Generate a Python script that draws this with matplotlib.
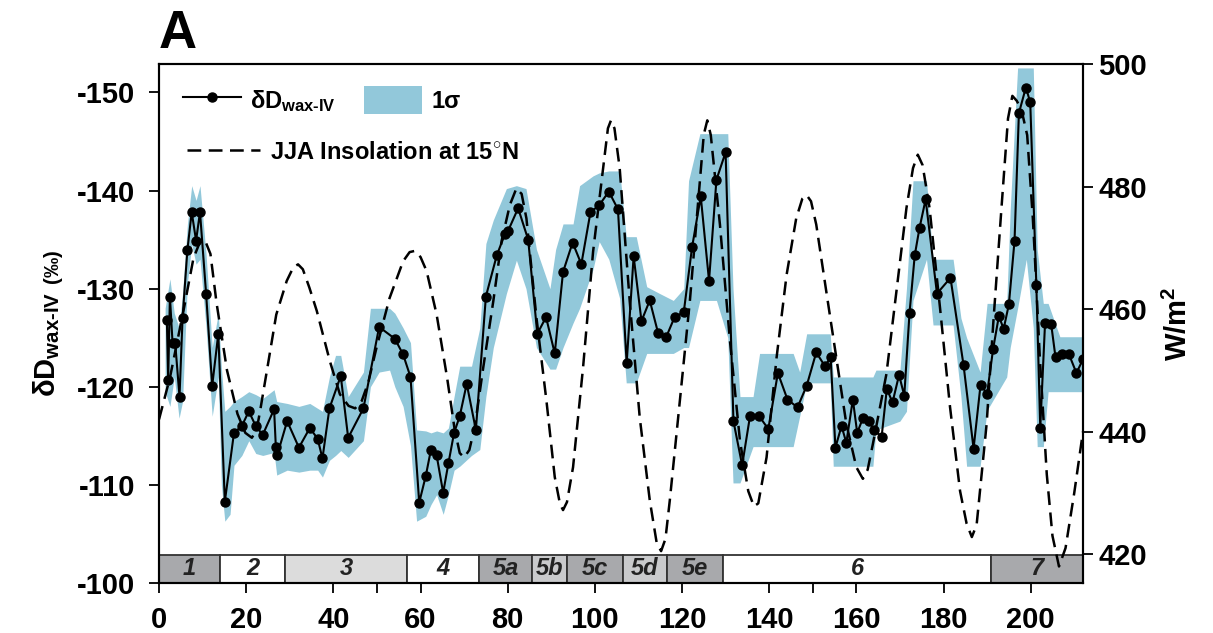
import matplotlib
matplotlib.use('Agg')
import matplotlib.pyplot as plt
import matplotlib.transforms as mtransforms
from matplotlib.patches import Rectangle, Patch
from matplotlib.lines import Line2D

# Styles:
bandColour = '#92c8da'
darkGrey = '#a8a9ac'
midGrey = '#c9cacc'
lightGrey = '#dcdcdc'
font_tick = 21
font_label = 21
font_legend = 17

plt.rcParams['font.family'] = ['Liberation Sans', 'DejaVu Sans']
plt.rcParams['font.weight'] = 'bold'
plt.rcParams['axes.labelweight'] = 'bold'
plt.rcParams['axes.unicode_minus'] = False
plt.rcParams['mathtext.fontset'] = 'custom'
plt.rcParams['mathtext.rm'] = 'Liberation Sans:bold'
plt.rcParams['mathtext.it'] = 'Liberation Sans:bold:italic'
plt.rcParams['mathtext.bf'] = 'Liberation Sans:bold'
plt.rcParams['mathtext.default'] = 'rm'

# dD wax-IV record (age in ka, permil)
age = [1.8, 2.1, 2.5, 3.1, 3.7, 4.7, 5.4, 6.5, 7.5, 8.5, 9.4, 10.8, 12.2, 13.6, 15.1,
       17.2, 19.0, 20.6, 22.2, 23.8, 26.4, 26.8, 27.1, 29.4, 32.1, 34.6, 36.4, 37.5,
       39.1, 41.7, 43.4, 46.9, 50.5, 54.1, 56.0, 57.7, 59.7, 61.2, 62.4, 63.7, 65.2,
       66.4, 67.7, 69.0, 70.6, 72.7, 75.0, 77.5, 79.4, 80.1, 82.4, 84.7, 86.8, 88.8,
       90.8, 92.7, 94.9, 96.9, 99.0, 101.0, 103.2, 105.3, 107.3, 108.9, 110.7, 112.6,
       114.5, 116.4, 118.3, 120.4, 122.3, 124.3, 126.2, 127.9, 130.0, 131.8, 133.8,
       135.6, 137.7, 139.8, 142.0, 144.2, 146.5, 148.6, 150.8, 152.8, 154.1, 155.2,
       156.6, 157.7, 159.2, 160.2, 161.5, 162.8, 164.1, 165.8, 167.0, 168.3, 169.8,
       171.0, 172.2, 173.4, 174.5, 175.9, 178.5, 181.6, 184.6, 186.9, 188.5, 190.0,
       191.4, 192.7, 193.8, 195.0, 196.3, 197.3, 198.9, 199.9, 201.3, 202.2, 203.3,
       204.7, 205.7, 207.3, 208.8, 210.5, 212.0]
dD = [-126.8, -120.7, -129.2, -124.5, -124.5, -119.0, -127.0, -133.9, -137.8, -134.9,
      -137.8, -129.5, -120.1, -125.4, -108.3, -115.3, -116.0, -117.5, -116.0, -115.1,
      -117.7, -113.9, -113.0, -116.5, -113.8, -115.8, -114.7, -112.7, -117.8, -121.1,
      -114.8, -117.8, -126.1, -124.9, -123.3, -121.0, -108.2, -110.9, -113.6, -113.0,
      -109.2, -112.2, -115.3, -117.0, -120.3, -115.6, -129.2, -133.4, -135.6, -135.9,
      -138.2, -135.0, -125.4, -127.1, -123.4, -131.7, -134.7, -132.5, -137.8, -138.5,
      -139.9, -138.1, -122.4, -133.3, -126.7, -128.8, -125.5, -125.1, -127.1, -127.6,
      -134.2, -139.4, -130.8, -141.1, -143.9, -116.5, -112.0, -117.0, -117.0, -115.7,
      -121.4, -118.7, -117.9, -120.1, -123.5, -122.1, -123.0, -113.8, -116.0, -114.3,
      -118.7, -115.3, -116.8, -116.5, -115.6, -114.9, -119.8, -118.4, -121.2, -119.1,
      -127.5, -133.4, -136.2, -139.1, -129.5, -131.1, -122.2, -113.7, -120.2, -119.3,
      -123.9, -127.2, -125.9, -128.4, -134.9, -147.9, -150.5, -149.0, -130.4, -115.8,
      -126.5, -126.4, -123.0, -123.3, -123.3, -121.4, -122.8]

# 1 sigma envelope
band_age = [1.4, 2.5, 3.5, 4.6, 5.4, 6.5, 7.5, 8.5, 9.4, 10.8, 12.2, 13.6, 14.3, 15.1,
            16.3, 17.2, 19.0, 20.6, 22.2, 23.8, 26.4, 27.0, 29.4, 32.1, 34.6, 36.4,
            37.5, 39.1, 40.5, 41.7, 43.4, 46.9, 48.5, 50.5, 52.9, 54.1, 56.0, 57.7,
            59.1, 61.2, 62.4, 63.7, 65.2, 66.4, 67.7, 69.0, 71.7, 73.6, 75.0, 76.7,
            79.7, 82.0, 84.2, 86.6, 89.7, 91.0, 92.7, 95.0, 96.5, 99.6, 101.0, 103.2,
            105.7, 107.2, 109.5, 111.9, 114.9, 118.0, 120.4, 121.5, 124.1, 127.9,
            130.5, 131.7, 133.3, 136.3, 137.8, 145.5, 147.0, 148.6, 154.0, 154.7,
            163.8, 164.5, 170.0, 171.5, 173.0, 176.1, 177.6, 182.2, 184.0, 185.3,
            188.4, 190.0, 194.5, 195.3, 197.0, 199.0, 200.6, 201.5, 202.9, 204.0,
            206.7, 212.0]
band_top = [-128.0, -131.0, -127.5, -126.0, -129.5, -136.5, -140.5, -139.0, -140.5,
            -133.5, -124.0, -127.5, -122.0, -117.5, -118.0, -118.5, -119.0, -119.5,
            -119.2, -118.8, -119.7, -118.5, -118.3, -118.0, -118.3, -117.8, -117.5,
            -121.0, -123.2, -123.2, -119.0, -121.5, -128.0, -128.0, -128.0, -127.5,
            -126.0, -124.5, -115.6, -115.5, -115.3, -115.5, -115.3, -115.8, -119.0,
            -122.1, -122.1, -126.0, -134.6, -137.0, -140.2, -140.5, -140.2, -134.0,
            -130.0, -134.0, -136.6, -136.6, -140.5, -141.5, -141.8, -142.0, -142.0,
            -135.3, -135.3, -130.2, -129.5, -128.8, -130.0, -141.0, -145.8, -145.8,
            -145.8, -130.0, -119.0, -119.0, -123.4, -123.4, -121.5, -125.4, -125.4,
            -121.0, -121.0, -121.7, -121.7, -130.0, -141.0, -141.0, -133.0, -133.0,
            -127.0, -125.0, -121.5, -128.5, -128.5, -138.0, -152.5, -152.5, -152.5,
            -134.0, -128.5, -128.5, -125.1, -125.1]
band_bot = [-119.5, -118.0, -121.0, -116.8, -118.5, -130.5, -134.5, -132.5, -133.0,
            -126.0, -117.0, -121.0, -110.0, -106.3, -107.0, -112.0, -113.0, -114.5,
            -113.2, -113.0, -113.3, -111.0, -111.5, -111.3, -111.5, -111.5, -110.8,
            -112.5, -113.0, -113.5, -112.8, -114.5, -120.0, -121.5, -121.7, -120.0,
            -118.0, -114.0, -106.3, -106.8, -108.0, -109.0, -107.0, -109.0, -111.5,
            -111.9, -113.0, -113.6, -119.0, -124.0, -129.5, -132.9, -130.0, -124.0,
            -121.8, -121.8, -124.0, -126.5, -128.0, -132.0, -134.8, -133.0, -129.0,
            -120.4, -120.4, -123.4, -123.4, -123.4, -124.0, -124.0, -128.8, -128.8,
            -125.0, -110.2, -110.2, -113.9, -113.9, -113.9, -117.0, -120.4, -120.4,
            -111.9, -111.9, -115.6, -116.5, -117.5, -128.8, -133.0, -126.3, -126.3,
            -119.0, -111.9, -111.9, -117.6, -121.0, -124.0, -128.0, -133.0, -126.0,
            -113.9, -113.9, -119.5, -119.5, -119.5]

# JJA insolation at 15N (W/m2)
ins_age = [0.0, 2.5, 5.6, 7.9, 9.3, 10.5, 11.8, 13.2, 15.6, 18.0, 19.8, 21.3, 22.4,
           23.2, 25.0, 26.9, 29.3, 30.8, 31.9, 33.0, 34.5, 36.2, 39.2, 41.5, 43.5,
           45.0, 46.5, 48.0, 49.9, 52.9, 56.0, 57.5, 58.7, 60.0, 61.4, 63.7, 66.1,
           67.8, 69.0, 70.0, 71.2, 72.5, 74.4, 76.7, 78.6, 80.5, 82.0, 83.2, 84.3,
           86.6, 88.9, 90.8, 92.0, 92.7, 93.6, 95.0, 97.3, 99.6, 101.9, 103.0, 103.7,
           104.5, 105.7, 108.0, 110.3, 112.6, 114.2, 115.2, 116.2, 117.2, 119.5,
           121.8, 123.7, 125.0, 125.8, 126.6, 128.7, 131.0, 133.3, 135.2, 136.5,
           137.5, 139.4, 141.7, 144.0, 146.2, 147.6, 148.6, 149.6, 150.8, 153.1,
           155.4, 157.7, 160.0, 161.5, 162.6, 163.8, 166.9, 169.2, 171.5, 173.0,
           174.1, 175.2, 176.8, 179.2, 181.5, 183.8, 185.3, 186.5, 187.6, 189.9,
           191.4, 193.3, 194.8, 195.8, 196.8, 197.9, 199.2, 200.5, 200.9, 202.1,
           203.7, 205.0, 206.5, 208.0, 210.0, 212.0]
insolation = [442.0, 448.8, 459.7, 468.3, 470.8, 471.3, 469.0, 461.0, 450.0, 442.9,
              439.8, 439.0, 440.3, 443.4, 451.0, 459.1, 464.6, 466.8, 467.3, 466.5,
              463.5, 459.7, 451.5, 446.1, 444.2, 443.8, 445.0, 448.0, 453.7, 461.8,
              467.8, 469.3, 469.5, 468.5, 466.2, 459.1, 448.8, 440.5, 436.5, 435.8,
              437.0, 441.0, 450.5, 461.3, 471.1, 477.0, 479.7, 478.8, 474.8, 458.6,
              445.0, 432.6, 428.2, 427.2, 428.5, 434.2, 450.5, 469.4, 483.0, 489.5,
              490.8, 489.5, 483.0, 461.3, 442.3, 428.8, 421.8, 420.5, 422.5, 428.8,
              445.0, 461.3, 477.5, 488.5, 490.8, 488.4, 473.8, 454.8, 438.5, 430.3,
              427.8, 428.3, 435.8, 452.1, 465.6, 474.8, 478.0, 478.6, 477.6, 473.8,
              462.9, 452.1, 441.3, 434.2, 432.3, 433.8, 438.0, 449.4, 462.9, 476.5,
              483.0, 485.2, 483.5, 476.5, 460.2, 444.0, 430.3, 425.0, 422.8, 424.8,
              441.3, 457.5, 476.5, 491.1, 494.8, 494.0, 492.5, 488.4, 474.8, 469.4,
              452.1, 433.0, 423.0, 418.0, 421.0, 430.0, 440.0]

# Marine isotope stages
mis_edges = [0, 14, 29, 57, 73.5, 85.5, 93.5, 106.5, 116.5, 129.5, 191, 212]
mis_names = ['1', '2', '3', '4', '5a', '5b', '5c', '5d', '5e', '6', '7']
mis_colours = [darkGrey, 'white', lightGrey, 'white', darkGrey, midGrey, darkGrey,
               midGrey, darkGrey, 'white', darkGrey]

fig = plt.figure(figsize=(12.13, 6.33), dpi=100)
ax = fig.add_axes([0.1311, 0.0790, 0.7617, 0.8199])

ax.fill_between(band_age, band_top, band_bot, color=bandColour, lw=0, zorder=2)
ax.plot(age, dD, color='black', lw=1.5, marker='o', markersize=6.5, zorder=3)

ax.set_xlim(0, 212)
ax.set_ylim(-100.2, -152.9)
ax.set_xticks(range(0, 201, 20))
ax.set_xticks([50, 150], minor=True)
ax.set_yticks(range(-150, -99, 10))
ax.tick_params(axis='both', which='both', direction='out', length=7, width=1.3,
               labelsize=font_tick)
ax.tick_params(axis='x', pad=9.5)
ax.tick_params(axis='y', pad=10)
for s in ax.spines.values():
    s.set_linewidth(1.5)
ax.set_ylabel('δD$_{wax\u2010IV}$ $_{(‰)}$', fontsize=font_label, labelpad=8)

# MIS bar along the bottom of the axes
trans = mtransforms.blended_transform_factory(ax.transData, ax.transAxes)
for i, name in enumerate(mis_names):
    x0, x1 = mis_edges[i], mis_edges[i + 1]
    ax.add_patch(Rectangle((x0, 0), x1 - x0, 0.054, transform=trans,
                           facecolor=mis_colours[i], edgecolor='#333333', lw=1.3, zorder=1))
    ax.text((x0 + x1) / 2, 0.027, name, transform=trans, ha='center', va='center',
            fontsize=17, fontstyle='italic', fontweight='bold', color='#222222', zorder=1)

# Insolation on the right axis
ax2 = ax.twinx()
ax2.plot(ins_age, insolation, color='black', lw=1.8, linestyle=(0, (5.5, 3)))
ax2.set_ylim(415.3, 500.0)
ax2.set_yticks(range(420, 501, 20))
ax2.tick_params(axis='y', direction='out', length=7, width=1.3, labelsize=font_tick, pad=4)
ax2.set_ylabel('W/m$^2$', fontsize=font_label, labelpad=12)
for s in ax2.spines.values():
    s.set_linewidth(1.5)

# Legends
h1 = Line2D([], [], color='black', lw=1.5, marker='o', markersize=6.5)
h2 = Patch(facecolor=bandColour, edgecolor='none')
leg1 = ax2.legend([h1, h2], ['δD$_{wax\u2010IV}$', '1σ'], ncol=2, loc='center left',
                  bbox_to_anchor=(0.013, 0.931), frameon=False, borderpad=0,
                  handlelength=2.45, handleheight=1.44, handletextpad=0.4,
                  columnspacing=1.2, fontsize=font_legend)
ax2.add_artist(leg1)
h3 = Line2D([], [], color='black', lw=1.8, linestyle=(0, (5.5, 3)))
ax2.legend([h3], ['JJA Insolation at 15$^{\\circ}$N'], loc='center left',
           bbox_to_anchor=(0.017, 0.830), frameon=False, borderpad=0,
           handlelength=3.1, handletextpad=0.42, fontsize=font_legend)

ax.text(0.0, 1.01, 'A', transform=ax.transAxes, fontsize=38, fontweight='bold',
        ha='left', va='bottom')

fig.savefig('out.png', dpi=100)
